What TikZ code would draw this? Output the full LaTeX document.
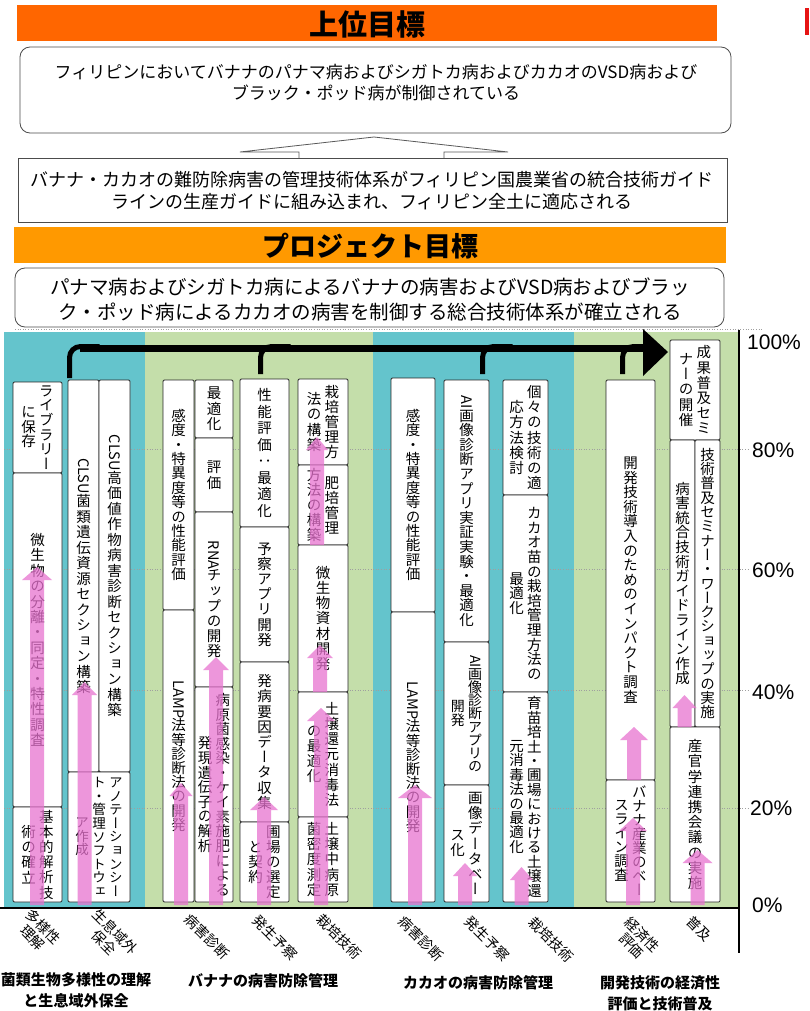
\documentclass[tikz,border=0pt]{standalone}
\usepackage{fontspec}
\usepackage{graphicx}
\usetikzlibrary{calc}
\setmainfont{Noto Sans CJK JP}
\newfontfamily\vjp{Noto Sans CJK JP}[RawFeature=+vert]
\newfontfamily\arialf{Liberation Sans}
\definecolor{tealb}{RGB}{100,196,204}
\definecolor{greenb}{RGB}{196,222,170}
\definecolor{orA}{RGB}{255,102,0}
\definecolor{orB}{RGB}{255,153,0}
\definecolor{pinkA}{RGB}{232,115,208}
\definecolor{redm}{RGB}{230,20,20}
\newlength\vadv
\setlength\vadv{15.2pt}
\ExplSyntaxOn
\NewDocumentCommand\vcol{m}{
  \kern1pt\parbox[c]{1.1em}{\centering \baselineskip=\vadv \lineskip=0.5pt \lineskiplimit=0pt
    \tl_map_inline:nn {#1}
      { \tl_if_single:nTF {##1} {##1} {\raisebox{0.78em}{\rotatebox{-90}{##1}}} \par }
  }\kern1pt
}
\ExplSyntaxOff
\newcommand\vtxt{\fontsize{14.5}{15.2}\selectfont\vjp}
\newcommand\va[1]{\vtxt\setlength\vadv{#1pt}}
\newcommand\vb[2]{\fontsize{#1}{#2}\selectfont\vjp\setlength\vadv{#2pt}}
\newcommand\bx[7][]{\node[cb,minimum width={#5pt-#3pt},minimum height={#6pt-#4pt},#1] (#2) at ({(#3+#5)/2},{(#4+#6)/2}) {#7};}
\newcommand\parr[4]{\fill[pa] ({#1-7},#2) -- ({#1-7},{#3+13}) -- ({#1-#4},{#3+13}) -- (#1,#3) -- ({#1+#4},{#3+13}) -- ({#1+7},{#3+13}) -- ({#1+7},#2) -- cycle;}
\begin{document}
\begin{tikzpicture}[x=1pt,y=-1pt,
  cb/.style={draw=black!85, line width=0.8pt, fill=white, rounded corners=1.2pt, inner sep=0pt, outer sep=0pt, font=\vtxt},
  pa/.style={fill=pinkA, opacity=0.75},
  gridl/.style={gray!75, line width=0.8pt, dash pattern=on 1pt off 1.6pt},
  rl/.style={rotate=-45, font=\fontsize{14}{15}\selectfont, align=center, inner sep=0pt},
  gl/.style={font=\fontsize{15}{21}\selectfont\bfseries, align=center, inner sep=0pt},
  pl/.style={font=\fontsize{21}{21}\selectfont\arialf, anchor=west, inner sep=0pt},
  goal/.style={draw=black!70, line width=0.8pt, fill=white},
]
\useasboundingbox (0,0) rectangle (809,1011);
\fill[white] (0,0) rectangle (809,1011);
% ---------- top part
\fill[orA] (17,5) rectangle (717,41);
\node[font=\fontsize{29}{29}\selectfont\bfseries, inner sep=0pt] (t1) at (367,24) {上位目標};
\fill[redm] (805,8) rectangle (809,35);
\node[goal, rounded corners=10pt, minimum width=711pt, minimum height=86pt] (g1) at (375.5,90) {};
\node[align=center, font=\fontsize{17}{21}\selectfont, inner sep=0pt] (g1t) at (376,83) {フィリピンにおいてバナナのパナマ病およびシガトカ病およびカカオのVSD病および\\ブラック・ポッド病が制御されている};
\draw[black!65, line width=0.8pt, fill=white] (299,160) -- (299,152) -- (240,152) -- (374,137) -- (508,152) -- (444,152) -- (444,160);
\node[goal, minimum width=709pt, minimum height=64pt] (g2) at (372.5,190) {};
\node[align=center, font=\fontsize{18}{22}\selectfont, inner sep=0pt] (g2t) at (372,191) {バナナ・カカオの難防除病害の管理技術体系がフィリピン国農業省の統合技術ガイド\\ラインの生産ガイドに組み込まれ、フィリピン全土に適応される};
\fill[orB] (14,227) rectangle (726,263);
\node[font=\fontsize{27}{27}\selectfont\bfseries, inner sep=0pt] (t2) at (370,246) {プロジェクト目標};
\node[goal, rounded corners=10pt, minimum width=709pt, minimum height=59pt] (g3) at (369.5,297.5) {};
\node[align=center, font=\fontsize{19.5}{25}\selectfont, inner sep=0pt] (g3t) at (370,299.5) {パナマ病およびシガトカ病によるバナナの病害およびVSD病およびブラッ\\ク・ポッド病によるカカオの病害を制御する総合技術体系が確立される};
% ---------- chart background
\fill[tealb] (4,332) rectangle (145,908);
\fill[greenb] (145,332) rectangle (373,908);
\fill[tealb] (373,332) rectangle (574,908);
\fill[greenb] (574,332) rectangle (739,908);
\draw[gridl] (15,329) -- (763,329);
\foreach \yy in {449,569,690,808} \draw[gridl] (4,\yy) -- (748,\yy);
\draw[line width=1.6pt] (739,330) -- (739,953);
\draw[line width=2.6pt] (0,908) -- (739,908);
\node[pl] (p100) at (747,342) {100\%};
\node[pl] (p80) at (752,450) {80\%};
\node[pl] (p60) at (752,570) {60\%};
\node[pl] (p40) at (752,692) {40\%};
\node[pl] (p20) at (750,808) {20\%};
\node[pl] (p0) at (752,905) {0\%};
% ---------- black flow arrow
\coordinate (b1) at (69.5,378);
\coordinate (b2) at (260.5,374);
\coordinate (b3) at (482.5,374);
\coordinate (b4) at (622.5,374);
\coordinate (bl) at (0,346.5);
\coordinate (bend) at (646,348);
\draw[line width=7pt] (80,348) -- (bend);
\fill (643,329) -- (668,352) -- (643,376) -- cycle;
\foreach \b in {b1,b2,b3,b4} \draw[line width=5pt, rounded corners=11pt] (\b) |- ($(\b |- bl)+(30,0)$);
% ---------- boxes
\bx[font=\va{14.6}]{A1}{13}{382}{62}{473}{\vcol{に保存}\vcol{ライブラリー}}
\bx[font=\va{15.4}]{A2}{13}{473}{62}{807}{\vcol{微生物の分離・同定・特性調査}}
\bx{A3}{13}{807}{62}{902}{\vcol{術の確立}\vcol{基本的解析技}}
\bx[font=\va{15.5}]{B1}{68}{380}{99}{772}{\vcol{{CLSU}菌類遺伝資源セクション構築}}
\bx[font=\va{15.5}]{B2}{99}{380}{130}{772}{\vcol{{CLSU}高価値作物病害診断セクション構築}}
\bx[font=\vb{13.5}{13.6}]{B3}{68}{772}{130}{902}{\vcol{ア作成}\vcol{ト・管理ソフトウェ}\vcol{アノテーションシー}}
\bx[font=\va{14.4}]{C1}{163}{380}{194}{610}{\vcol{感度・特異度等の性能評価}}
\bx[font=\va{14.2}]{C2}{163}{610}{194}{902}{\vcol{{LAMP}法等診断法の開発}}
\bx[font=\va{15.7}]{D1}{195}{380}{233}{438}{\vcol{最適化}}
\bx[font=\va{15.7}]{D2}{195}{438}{233}{512}{\vcol{評価}}
\bx{D3}{195}{512}{233}{687}{\vcol{{RNA}チップの開発}}
\bx[font=\va{14.6}]{D4}{195}{687}{233}{902}{\vcol{発現遺伝子の解析}\vcol{病原菌感染・ケイ素施肥による}}
\bx[font=\va{16.5}]{E1}{240}{379}{289}{527}{\vcol{性能評価：最適化}}
\bx{E2}{240}{527}{289}{662}{\vcol{予察アプリ開発}}
\bx{E3}{240}{662}{289}{822}{\vcol{発病要因データ収集}}
\bx[font=\va{15}]{E4}{240}{822}{289}{902}{\vcol{と契約}\vcol{圃場の選定}}
\bx{F1}{298}{379}{348}{465}{\vcol{法の構築}\vcol{栽培管理方}}
\bx[font=\va{15}]{F2}{298}{465}{348}{545}{\vcol{方法の構築}\vcol{肥培管理}}
\bx{F3}{298}{545}{348}{692}{\vcol{微生物資材開発}}
\bx{F4}{298}{692}{348}{817}{\vcol{の最適化}\vcol{土壌還元消毒法}}
\bx{F5}{298}{817}{348}{902}{\vcol{菌密度測定}\vcol{土壌中病原}}
\bx[font=\va{14.4}]{G1}{391}{378}{435}{612}{\vcol{感度・特異度等の性能評価}}
\bx[font=\va{14.2}]{G2}{391}{612}{435}{902}{\vcol{{LAMP}法等診断法の開発}}
\bx[font=\va{14.6}]{H1}{444}{380}{489}{642}{\vcol{{AI}画像診断アプリ実証実験・最適化}}
\bx[font=\vb{14}{13.2}]{H2}{444}{642}{489}{785}{\vcol{開発}\vcol{{AI}画像診断アプリの}}
\bx{H3}{444}{785}{489}{902}{\vcol{ス化}\vcol{画像データベー}}
\bx{I1}{503}{380}{548}{495}{\vcol{応方法検討}\vcol{個々の技術の適}}
\bx[font=\va{14.6}]{I2}{503}{495}{548}{692}{\vcol{最適化}\vcol{カカオ苗の栽培管理方法の}}
\bx[font=\va{14.4}]{I3}{503}{692}{548}{902}{\vcol{元消毒法の最適化}\vcol{育苗培土・圃場における土壌還}}
\bx[font=\va{14.6}]{J1}{606}{380}{655}{780}{\vcol{開発技術導入のためのインパクト調査}}
\bx[font=\va{14}]{J2}{606}{780}{655}{902}{\vcol{スライン調査}\vcol{バナナ産業のベー}}
\bx{K1}{670}{340}{720}{440}{\vcol{ナーの開催}\vcol{成果普及セミ}}
\bx[font=\va{14.6}]{K2}{670}{440}{695}{727}{\vcol{病害統合技術ガイドライン作成}}
\bx[font=\va{14.3}]{K3}{695}{440}{720}{727}{\vcol{技術普及セミナー・ワークショップの実施}}
\bx{K4}{670}{727}{720}{902}{\vcol{産官学連携会議の実施}}
% ---------- pink arrows
\parr{37}{905}{567}{15}
\parr{84.5}{905}{682}{12.5}
\parr{181}{905}{783}{11.5}
\parr{216}{905}{657}{13}
\parr{264}{905}{797}{14}
\parr{317}{545}{437}{11}
\parr{320}{692}{645}{13}
\parr{321}{905}{708}{14}
\parr{415}{905}{785}{17}
\parr{465}{905}{863}{12}
\parr{521.5}{905}{867}{11.5}
\parr{634}{780}{727}{14}
\parr{633}{905}{818}{14}
\parr{684.5}{727}{695}{12}
\parr{697.5}{905}{850}{15}
% ---------- bottom labels
\node[rl] (l1) at (38,932) {多様性\\理解};
\node[rl] (l2) at (110,937) {生息域外\\保全};
\node[rl] (l3) at (207,937) {病害診断};
\node[rl] (l4) at (275,938) {発生予察};
\node[rl] (l5) at (339,937) {栽培技術};
\node[rl] (l6) at (421,939) {病害診断};
\node[rl] (l7) at (487,939) {発生予察};
\node[rl] (l8) at (551,940) {栽培技術};
\node[rl] (l9) at (637,940) {経済性\\評価};
\node[rl] (l10) at (699,929) {普及};
\node[gl] (m1) at (76,990.5) {菌類生物多様性の理解\\と生息域外保全};
\node[gl] (m2) at (263,981) {バナナの病害防除管理};
\node[gl] (m3) at (478,983) {カカオの病害防除管理};
\node[gl] (m4) at (660,993) {開発技術の経済性\\評価と技術普及};
\end{tikzpicture}
\end{document}
